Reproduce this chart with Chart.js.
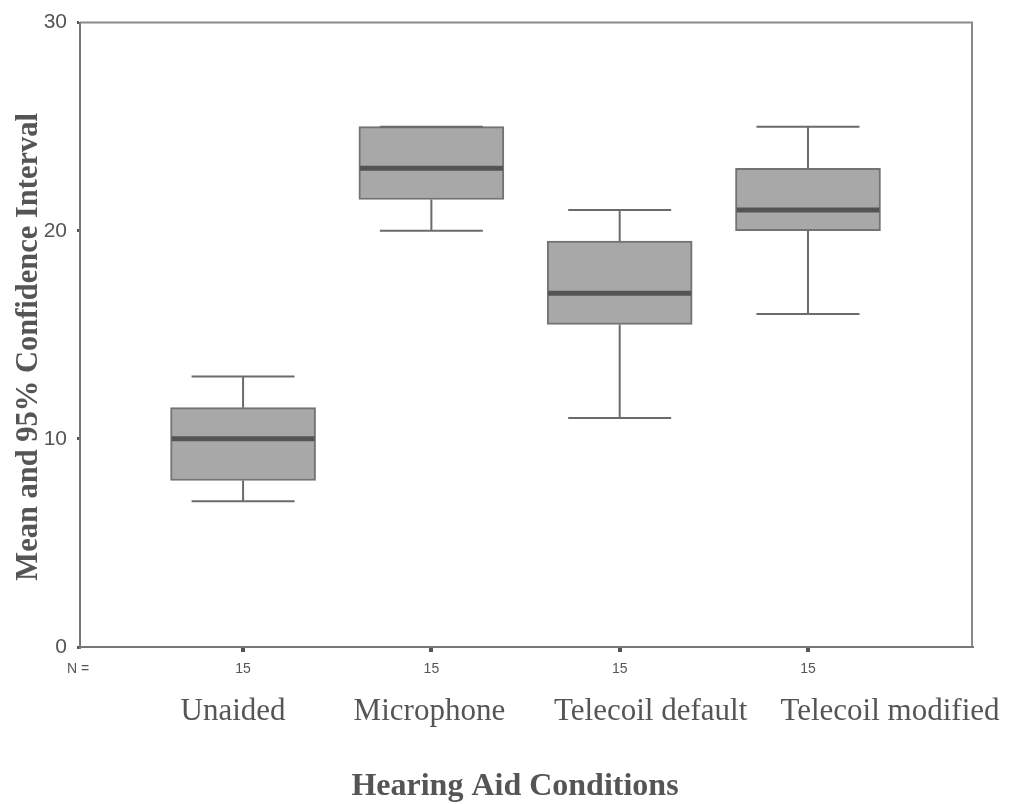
<!DOCTYPE html>
<html>
<head>
<meta charset="UTF-8">
<script src="https://cdn.jsdelivr.net/npm/chart.js"></script>
<title>Hearing Aid Conditions</title>
<style>
  body { margin: 0; background: #fff; }
  #wrap { width: 1015px; height: 804px; }
</style>
</head>
<body>
<div id="wrap"><canvas id="boxChart"></canvas></div>
<script>
    // values
    var categories = ['Unaided', 'Microphone', 'Telecoil default', 'Telecoil modified'];
    var whiskerLow  = [7, 20, 11, 16];
    var boxLow      = [8, 21.5, 15.5, 20];
    var medians     = [10, 23, 17, 21];
    var boxHigh     = [11.5, 25, 19.5, 23];
    var whiskerHigh = [13, 25, 21, 25];
    var counts      = [15, 15, 15, 15];
    var yTicks      = [0, 10, 20, 30];
    var xTitle = 'Hearing Aid Conditions';
    var yTitle = 'Mean and 95% Confidence Interval';

    var boxWidth = 145;
    var capWidth = 103;
    // the caption row below the N row is not centred under the boxes
    var labelShift = [-10, -2, 31, 82];

    var boxes = categories.map(function (c, i) {
        return { x: i + 1, y: [boxLow[i], boxHigh[i]] };
    });

    // whiskers, medians, frame, N row, caption row and titles
    var boxPlotExtras = {
        id: 'boxPlotExtras',
        beforeDatasetsDraw: function (chart) {
            var a = chart.chartArea, ctx = chart.ctx;
            ctx.save();
            ctx.strokeStyle = '#8a8a8a';
            ctx.lineWidth = 2;
            ctx.beginPath();
            ctx.moveTo(a.left, a.top);
            ctx.lineTo(a.right, a.top);
            ctx.lineTo(a.right, a.bottom);
            ctx.stroke();
            ctx.restore();
        },
        afterDatasetsDraw: function (chart) {
            var ctx = chart.ctx, xs = chart.scales.x, ys = chart.scales.y, a = chart.chartArea;
            ctx.save();
            for (var i = 0; i < categories.length; i++) {
                var cx = xs.getPixelForValue(i + 1);
                ctx.strokeStyle = '#6b6b6b';
                ctx.lineWidth = 2;
                ctx.beginPath();
                ctx.moveTo(cx, ys.getPixelForValue(boxHigh[i]));
                ctx.lineTo(cx, ys.getPixelForValue(whiskerHigh[i]));
                ctx.moveTo(cx - capWidth / 2, ys.getPixelForValue(whiskerHigh[i]));
                ctx.lineTo(cx + capWidth / 2, ys.getPixelForValue(whiskerHigh[i]));
                ctx.moveTo(cx, ys.getPixelForValue(boxLow[i]));
                ctx.lineTo(cx, ys.getPixelForValue(whiskerLow[i]));
                ctx.moveTo(cx - capWidth / 2, ys.getPixelForValue(whiskerLow[i]));
                ctx.lineTo(cx + capWidth / 2, ys.getPixelForValue(whiskerLow[i]));
                ctx.stroke();

                ctx.strokeStyle = '#545454';
                ctx.lineWidth = 5;
                ctx.beginPath();
                ctx.moveTo(cx - boxWidth / 2 + 1, ys.getPixelForValue(medians[i]));
                ctx.lineTo(cx + boxWidth / 2 - 1, ys.getPixelForValue(medians[i]));
                ctx.stroke();
            }
            var bottom = a.bottom;
            ctx.fillStyle = '#555';
            ctx.textAlign = 'center';
            ctx.textBaseline = 'middle';
            ctx.font = '14px "Liberation Sans", Arial, sans-serif';
            ctx.fillText('N =', 78, bottom + 22);
            for (var j = 0; j < counts.length; j++) {
                ctx.fillText(String(counts[j]), xs.getPixelForValue(j + 1), bottom + 22);
            }
            ctx.font = '31px "Liberation Serif", "Times New Roman", serif';
            for (var k = 0; k < categories.length; k++) {
                ctx.fillText(categories[k], xs.getPixelForValue(k + 1) + labelShift[k], bottom + 65);
            }
            // axis titles
            ctx.font = 'bold 32px "Liberation Serif", "Times New Roman", serif';
            ctx.fillText(xTitle, (a.left + a.right) / 2 - 11, bottom + 140);
            ctx.translate(29, (a.top + a.bottom) / 2 + 12);
            ctx.rotate(-Math.PI / 2);
            ctx.font = 'bold 30.5px "Liberation Serif", "Times New Roman", serif';
            ctx.fillText(yTitle, 0, 0);
            ctx.restore();
        }
    };

    var config = {
        type: 'bar',
        data: {
            datasets: [{
                label: 'Box',
                data: boxes,
                backgroundColor: '#a8a8a8',
                borderColor: '#737373',
                borderWidth: 2,
                borderSkipped: false,
                barThickness: boxWidth
            }]
        },
        options: {
            responsive: true,
            maintainAspectRatio: false,
            animation: false,
            layout: { padding: { top: 18, right: 43, left: 0, bottom: 0 } },
            plugins: {
                legend: { display: false },
                tooltip: { enabled: false }
            },
            scales: {
                x: {
                    type: 'linear',
                    min: 0.134,
                    max: 4.871,
                    offset: false,
                    afterBuildTicks: function (scale) {
                        scale.ticks = categories.map(function (c, i) { return { value: i + 1 }; });
                    },
                    afterFit: function (scale) { scale.height = 157; },
                    ticks: {
                        autoSkip: false,
                        maxRotation: 0,
                        callback: function () { return ''; }
                    },
                    grid: {
                        display: true,
                        offset: false,
                        drawOnChartArea: false,
                        drawTicks: true,
                        tickLength: 5,
                        lineWidth: 4,
                        color: '#555'
                    },
                    border: { display: true, color: '#777', width: 2 }
                },
                y: {
                    min: 0,
                    max: 30,
                    afterBuildTicks: function (scale) {
                        scale.ticks = yTicks.map(function (v) { return { value: v }; });
                    },
                    afterFit: function (scale) { scale.width = 80; },
                    ticks: {
                        padding: 10,
                        color: '#555',
                        font: { family: '"Liberation Sans", Arial, sans-serif', size: 21 }
                    },
                    grid: {
                        display: true,
                        drawOnChartArea: false,
                        drawTicks: true,
                        tickLength: 3,
                        lineWidth: 3,
                        color: '#555'
                    },
                    border: { display: true, color: '#777', width: 2 }
                }
            }
        },
        plugins: [boxPlotExtras]
    };

    const boxChart = new Chart(document.getElementById('boxChart'), config);
</script>
</body>
</html>
